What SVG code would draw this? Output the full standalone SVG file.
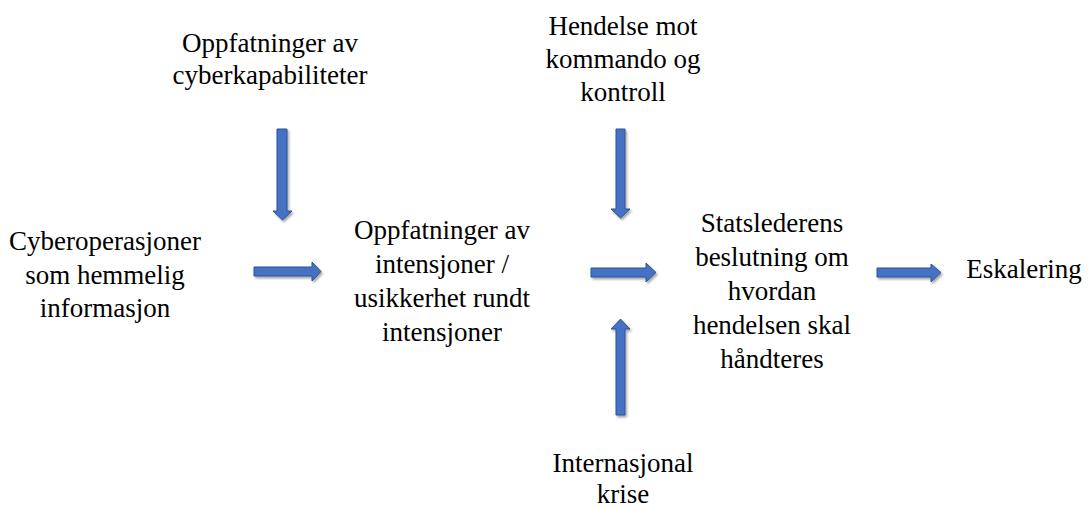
<svg xmlns="http://www.w3.org/2000/svg" width="1091" height="508" viewBox="0 0 1091 508">
<defs>
<style>
text{font-family:'Liberation Serif','Tinos','Times New Roman','DejaVu Serif',serif;font-size:27px;fill:#000;text-anchor:middle}
.arr{fill:#4472C4;stroke:#2F528F;stroke-width:1;filter:url(#sh)}
</style>
<filter id="sh" x="-50%" y="-50%" width="200%" height="200%">
<feDropShadow dx="1.5" dy="2" stdDeviation="1.2" flood-color="#000" flood-opacity="0.35"/>
</filter>
</defs>
<rect width="1091" height="508" fill="#fff"/>
<g id="n1"><text x="270" y="52">Oppfatninger av</text><text x="270" y="84">cyberkapabiliteter</text></g>
<g id="n2"><text x="623" y="35">Hendelse mot</text><text x="623" y="68">kommando og</text><text x="623" y="101">kontroll</text></g>
<g id="n3"><text x="105" y="250">Cyberoperasjoner</text><text x="105" y="284">som hemmelig</text><text x="105" y="317">informasjon</text></g>
<g id="n4"><text x="442" y="239">Oppfatninger av</text><text x="442" y="273">intensjoner /</text><text x="442" y="307">usikkerhet rundt</text><text x="442" y="341">intensjoner</text></g>
<g id="n5"><text x="772" y="232">Statslederens</text><text x="772" y="266">beslutning om</text><text x="772" y="300">hvordan</text><text x="772" y="334">hendelsen skal</text><text x="772" y="368">håndteres</text></g>
<g id="n6"><text x="623" y="472">Internasjonal</text><text x="623" y="503">krise</text></g>
<g id="n7"><text x="1024" y="278">Eskalering</text></g>
<g id="connectors">
<polygon class="arr" points="277,129 287,129 287,211 292,211 282.5,220 273,211 277,211"/>
<polygon class="arr" points="254,267 312,267 312,262 321,271.5 312,281 312,276 254,276"/>
<polygon class="arr" points="616,129 625,129 625,209 630,209 620.5,218 611,209 616,209"/>
<polygon class="arr" points="591,268 646,268 646,263 656,272.5 646,282 646,277 591,277"/>
<polygon class="arr" points="616,415 625,415 625,329 630,329 620.5,319 611,329 616,329"/>
<polygon class="arr" points="877,268 931,268 931,264 941,272.5 931,282 931,277 877,277"/>
</g>
</svg>
